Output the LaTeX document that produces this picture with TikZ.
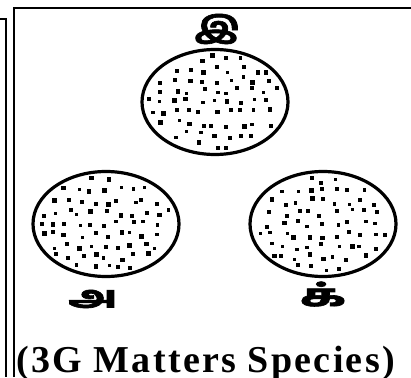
\documentclass[tikz,border=0pt]{standalone}
\usepackage{fontspec}
\setmainfont{Liberation Serif}
\newfontfamily\tamilfont[Script=Tamil, FakeBold=2]{Hind Madurai Bold}
\newfontfamily\capfont[LetterSpace=6]{Liberation Serif Bold}
\usetikzlibrary{shapes.geometric}
\begin{document}
\begin{tikzpicture}[x=1pt,y=-1pt,
  frame/.style={line width=2pt},
  blob/.style={draw, ellipse, line width=3.2pt, inner sep=0pt, minimum width=146pt, minimum height=105pt},
  speck/.style={fill=black},
  tam/.style={font=\tamilfont\fontsize{30}{30}\selectfont, inner sep=0pt},
  captext/.style={font=\capfont\fontsize{38}{38}\selectfont, inner sep=0pt}]
\useasboundingbox (0,0) rectangle (411,377);
% frame lines
\coordinate (f1) at (0,19);
\coordinate (f2) at (6,19);
\coordinate (f3) at (6,377);
\coordinate (g1) at (14,377);
\coordinate (g2) at (14,8);
\coordinate (g3) at (411,8);
\draw[frame] (f1) -- (f2) -- (f3);
\draw[frame] (g1) -- (g2) -- (g3);
% ellipses
\node[blob] (top) at (215,102) {};
\node[blob] (left) at (106,224) {};
\node[blob] (right) at (323,224) {};
% specks on a jittered grid
\pgfmathsetseed{4242}
\foreach \cx/\cy in {215/102,106/224,323/224}{
  \foreach \gx in {-65,-52,...,65}{
    \foreach \gy in {-44,-33,...,44}{
      \pgfmathsetmacro\px{\gx+(rnd-0.5)*8}
      \pgfmathsetmacro\py{\gy+(rnd-0.5)*7}
      \pgfmathsetmacro\sz{3.2+rnd*1.6}
      \pgfmathtruncatemacro\ok{((\px/70)^2+(\py/50)^2)<0.9}
      \ifnum\ok=1
        \fill[speck] ({\cx+\px-\sz/2},{\cy+\py-\sz/2}) rectangle ++(\sz,\sz);
      \fi
    }
  }
}
% labels
\node[tam, xscale=1.3] (ltop) at (217,29) {இ};
\node[tam, xscale=1.6] (lleft) at (93,299) {அ};
\node[tam, xscale=1.8] (lright) at (323,294) {க்};
% caption
\node[captext, anchor=base west] (caption) at (16,372) {(3G Matters Species)};
\end{tikzpicture}
\end{document}
